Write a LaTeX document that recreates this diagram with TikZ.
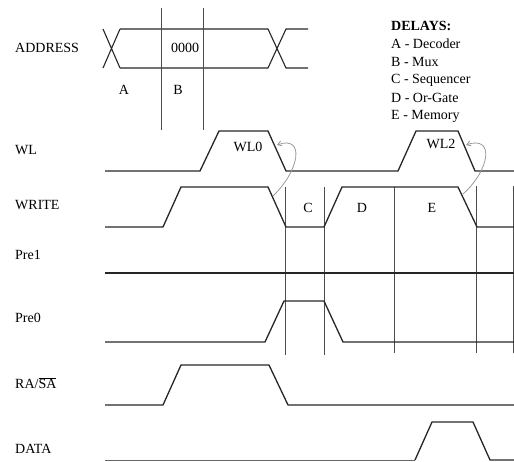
\documentclass[tikz,border=0pt]{standalone}
\usepackage{fontspec}
\setmainfont{Liberation Serif}
\usetikzlibrary{arrows.meta}
\tikzset{
  lbl/.style={anchor=west,inner sep=0pt,font=\fontsize{14}{16}\selectfont},
  txt/.style={inner sep=0pt,font=\fontsize{14}{16}\selectfont},
  sig/.style={line width=1.3pt,black!85,line join=miter},
  guide/.style={line width=0.7pt,black!70},
  delayarrow/.style={line width=0.8pt,gray!80,-{Straight Barb[length=4pt,width=5pt]}}
}
\begin{document}
\begin{tikzpicture}[x=1pt,y=-1pt]
\useasboundingbox (0,0) rectangle (514,461);

% labels
\node[lbl] (lAddr) at (15,48) {ADDRESS};
\node[lbl] (lWL) at (15,150) {WL};
\node[lbl] (lWrite) at (15,205) {WRITE};
\node[lbl] (lPre1) at (15,255) {Pre1};
\node[lbl] (lPre0) at (15,318) {Pre0};
\node[lbl] (lRASA) at (15,383) {RA/$\overline{\mbox{SA}}$};
\node[lbl] (lData) at (15,449) {DATA};

% delays legend
\node[lbl,font=\fontsize{14}{16}\selectfont\bfseries] (dTitle) at (391,26) {DELAYS:};
\node[lbl] (dA) at (391,44) {A - Decoder};
\node[lbl] (dB) at (391,62) {B - Mux};
\node[lbl] (dC) at (391,80) {C - Sequencer};
\node[lbl] (dD) at (391,98) {D - Or-Gate};
\node[lbl] (dE) at (391,116) {E - Memory};

% address bus
\draw[sig,line width=1.1pt] (103,29) -- (120,68) (103,68) -- (120,29);
\draw[sig,line width=1.1pt] (120,29) -- (268,29) -- (286,68) -- (308,68);
\draw[sig,line width=1.1pt] (120,68) -- (268,68) -- (286,29) -- (308,29);
\draw[guide] (161,8) -- (161,130);
\draw[guide] (203,8) -- (203,130);
\node[txt] (t0000) at (185,48) {0000};
\node[txt] (tA) at (124,90) {A};
\node[txt] (tB) at (178,90) {B};

% timing guides
\draw[guide] (285,187) -- (285,355);
\draw[guide] (324,187) -- (324,355);
\draw[guide] (394,187) -- (394,353);
\draw[guide] (476,186) -- (476,353);
\draw[guide] (513,186) -- (513,353);
\node[txt] (tC) at (308,208) {C};
\node[txt] (tD) at (362,208) {D};
\node[txt] (tE) at (432,208) {E};

% WL
\draw[sig] (105,171) -- (200,171) -- (219,131) -- (268,131) -- (286,171) -- (398,171) -- (416,131) -- (458,131) -- (475,171) -- (514,171);
\node[txt] (tWL0) at (248,147) {WL0};
\node[txt] (tWL2) at (441,144) {WL2};

% WRITE
\draw[sig] (105,227) -- (163,227) -- (181,187) -- (268,187) -- (286,227) -- (324,227) -- (342,187) -- (458,187) -- (477,227) -- (514,227);

% Pre1
\draw[sig] (105,273) -- (514,273);

% Pre0
\draw[sig] (105,342) -- (265,342) -- (284,301) -- (324,301) -- (343,342) -- (514,342);

% RA/SA
\draw[sig] (105,405) -- (163,405) -- (181,365) -- (269,365) -- (288,405) -- (514,405);

% DATA
\draw[line width=0.8pt,black!60] (105,460) -- (415,460);
\draw[sig] (415,460) -- (432,422) -- (473,422) -- (490,460) -- (514,460);

% delay arrows
\coordinate (a1s) at (273,196);
\coordinate (a1e) at (277,145);
\coordinate (a2s) at (463,194);
\coordinate (a2e) at (466,145);
\draw[delayarrow] (a1s) .. controls (300,170) and (305,135) .. (a1e);
\draw[delayarrow] (a2s) .. controls (490,170) and (495,135) .. (a2e);
\end{tikzpicture}
\end{document}
